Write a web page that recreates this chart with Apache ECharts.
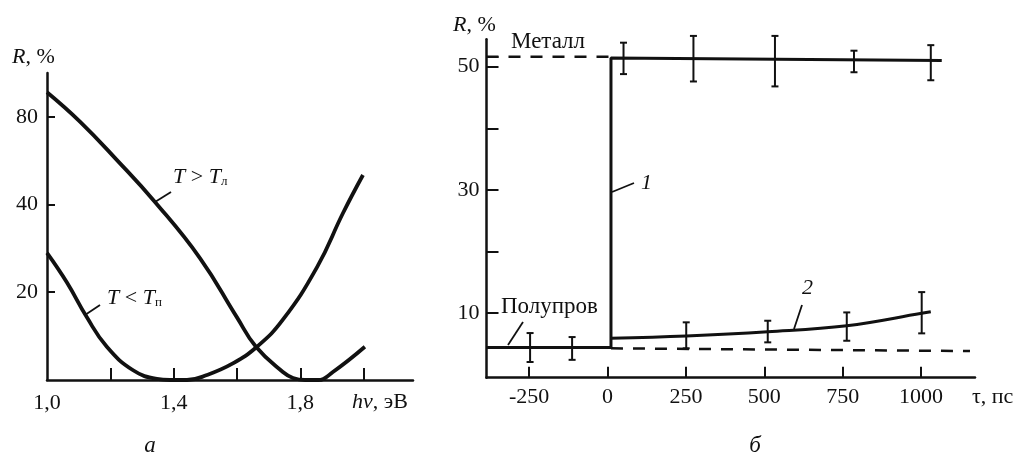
<!DOCTYPE html>
<html><head><meta charset="utf-8">
<script src="https://cdn.jsdelivr.net/npm/echarts@6/dist/echarts.min.js"></script>
<style>html,body{margin:0;padding:0;background:#fff}#c{width:1018px;height:454px}</style>
</head><body><div id="c"></div>
<script>
// ---- Panel a: R(hν), log-like R axis ----
const aXTickValues = [1.2, 1.4, 1.6, 1.8, 2.0];
const aXLabelValues = [1.0, 1.4, 1.8];
const aYTickValues = [20, 40, 80];
const curveHot = [[1.0,97.1],[1.104,77.0],[1.221,56.8],[1.341,40.8],[1.483,26.2],[1.600,16.4],[1.660,13.0],[1.745,10.65],[1.777,10.16],[1.815,10],[1.856,10],[1.903,10.65],[2.004,13.0]];
const curveCold = [[1.0,27.3],[1.063,21.6],[1.126,16.4],[1.189,13.0],[1.272,10.8],[1.347,10.08],[1.388,10],[1.442,10],[1.505,10.4],[1.587,11.4],[1.663,13.0],[1.745,16.1],[1.853,24.4],[1.935,37.4],[1.998,50.5]];

// ---- Panel b: R(τ) ----
const bXLabelValues = [-250, 0, 250, 500, 750, 1000];
const bYLabelValues = [10, 30, 50];
const bYTickValues = [10, 20, 30, 40, 50, 51.6];
const curve1 = [[-386,4.4],[11,4.4],[11,51.4],[1066,51.0]];
const curve2 = [[11,5.9],[251,6.27],[511,6.96],[763,7.94],[1002,9.95],[1031,10.2]];
const metalLevel = [[-386,51.6],[11,51.6]];
const semiLevel = [[11,4.27],[1156,3.83]];
const errMetal = [[51,48.8,53.9],[274,47.6,55.0],[534,46.8,55.0],[786,49.1,52.6],[1031,47.8,53.5]];
const errSemi = [[-247,2.05,6.75],[-113,2.4,6.1],[251,4.27,8.49],[511,5.24,8.75],[763,5.5,10.1],[1002,6.7,13.4]];

const FONT = 'Liberation Serif';
const INK = '#111';

function errRender(params, api) {
  const x = api.value(0), lo = api.value(1), hi = api.value(2);
  const p1 = api.coord([x, lo]), p2 = api.coord([x, hi]);
  const w = 3.5;
  const style = { stroke: INK, lineWidth: 2 };
  return { type: 'group', children: [
    { type: 'line', shape: { x1: p1[0], y1: p1[1], x2: p2[0], y2: p2[1] }, style },
    { type: 'line', shape: { x1: p1[0]-w, y1: p1[1], x2: p1[0]+w, y2: p1[1] }, style },
    { type: 'line', shape: { x1: p2[0]-w, y1: p2[1], x2: p2[0]+w, y2: p2[1] }, style }
  ]};
}

const axisLineStyle = { show: true, onZero: false, lineStyle: { color: INK, width: 2.5 } };
const labelStyle = { color: INK, fontFamily: FONT, fontSize: 22 };

const chart = echarts.init(document.getElementById('c'), null, { renderer: 'canvas' });

function txt(x, y, text, extra) {
  return Object.assign({ type: 'text', x, y, style: Object.assign({
    text, fill: INK, font: '22px "Liberation Serif"', textVerticalAlign: 'middle', verticalAlign: 'middle'
  }, extra || {}) });
}
function seg(x1, y1, x2, y2) {
  return { type: 'line', shape: { x1, y1, x2, y2 }, style: { stroke: INK, lineWidth: 1.8 } };
}
const richBase = {
  i: { fontStyle: 'italic', fontFamily: FONT, fontSize: 22, color: INK },
  n: { fontFamily: FONT, fontSize: 22, color: INK },
  s: { fontFamily: FONT, fontSize: 13, color: INK, verticalAlign: 'bottom', padding: [8, 0, 0, 0] }
};

chart.setOption({
  animation: false,
  backgroundColor: '#fff',
  grid: [
    { left: 47, top: 73, width: 366, height: 307 },
    { left: 486.5, top: 39.3, width: 488.5, height: 338.4 }
  ],
  xAxis: [
    { gridIndex: 0, type: 'value', min: 1.0, max: 2.156, axisLine: axisLineStyle,
      splitLine: { show: false },
      axisTick: { show: true, inside: true, length: 12, customValues: aXTickValues, lineStyle: { color: INK, width: 2 } },
      axisLabel: Object.assign({ customValues: aXLabelValues, margin: 12, formatter: v => v.toFixed(1).replace('.', ',') }, labelStyle) },
    { gridIndex: 1, type: 'value', min: -386, max: 1172, axisLine: axisLineStyle,
      splitLine: { show: false },
      axisTick: { show: true, inside: true, length: 11, customValues: bXLabelValues, lineStyle: { color: INK, width: 2 } },
      axisLabel: Object.assign({ customValues: bXLabelValues, margin: 9, formatter: v => String(v) }, labelStyle) }
  ],
  yAxis: [
    { gridIndex: 0, type: 'log', min: 10, max: 113, axisLine: axisLineStyle,
      splitLine: { show: false },
      axisTick: { show: true, inside: true, length: 8, customValues: aYTickValues, lineStyle: { color: INK, width: 2 } },
      axisLabel: Object.assign({ customValues: aYTickValues, margin: 9, formatter: v => String(Math.round(v)) }, labelStyle) },
    { gridIndex: 1, type: 'value', min: -0.5, max: 54.45, axisLine: axisLineStyle,
      splitLine: { show: false },
      axisTick: { show: true, inside: true, length: 12, customValues: bYTickValues, lineStyle: { color: INK, width: 2 } },
      axisLabel: Object.assign({ customValues: bYLabelValues, margin: 7, formatter: v => String(v) }, labelStyle) }
  ],
  series: [
    { type: 'line', xAxisIndex: 0, yAxisIndex: 0, data: curveHot, smooth: 0.45, symbol: 'none',
      lineStyle: { color: INK, width: 3.8 } },
    { type: 'line', xAxisIndex: 0, yAxisIndex: 0, data: curveCold, smooth: 0.45, symbol: 'none',
      lineStyle: { color: INK, width: 3.8 } },
    { type: 'line', xAxisIndex: 1, yAxisIndex: 1, data: metalLevel, symbol: 'none',
      lineStyle: { color: INK, width: 2.5, type: [12, 10] } },
    { type: 'line', xAxisIndex: 1, yAxisIndex: 1, data: semiLevel, symbol: 'none',
      lineStyle: { color: INK, width: 2.5, type: [12, 10] } },
    { type: 'line', xAxisIndex: 1, yAxisIndex: 1, data: curve1, symbol: 'none',
      lineStyle: { color: INK, width: 3 } },
    { type: 'line', xAxisIndex: 1, yAxisIndex: 1, data: curve2, smooth: 0.4, symbol: 'none',
      lineStyle: { color: INK, width: 3 } },
    { type: 'custom', xAxisIndex: 1, yAxisIndex: 1, data: errMetal, renderItem: errRender, clip: false,
      encode: { x: 0, y: [1, 2] } },
    { type: 'custom', xAxisIndex: 1, yAxisIndex: 1, data: errSemi, renderItem: errRender, clip: false,
      encode: { x: 0, y: [1, 2] } }
  ],
  graphic: [
    txt(12, 57, '{i|R}{n|, %}', { rich: richBase }),
    txt(173, 177, '{i|T}{n| > }{i|T}{s|л}', { rich: richBase }),
    txt(107, 298, '{i|T}{n| < }{i|T}{s|п}', { rich: richBase }),
    txt(352, 402, '{i|hν}{n|, эВ}', { rich: richBase }),
    txt(150, 446, 'a', { font: 'italic 23px "Liberation Serif"', textAlign: 'center', align: 'center' }),
    seg(155, 202, 171, 192),
    seg(85, 315, 100, 305),
    txt(453, 25, '{i|R}{n|, %}', { rich: richBase }),
    txt(511, 42, 'Металл', { font: '23px "Liberation Serif"' }),
    txt(501, 307, 'Полупров', { font: '23px "Liberation Serif"' }),
    txt(641, 183, '1', { font: 'italic 22px "Liberation Serif"' }),
    txt(802, 288, '2', { font: 'italic 22px "Liberation Serif"' }),
    txt(972, 397, 'τ, пс'),
    txt(755, 446, 'б', { font: 'italic 23px "Liberation Serif"', textAlign: 'center', align: 'center' }),
    seg(508, 345, 523, 322),
    seg(612, 192, 634, 183),
    seg(794, 329, 802, 305)
  ]
});
</script>
</body></html>
